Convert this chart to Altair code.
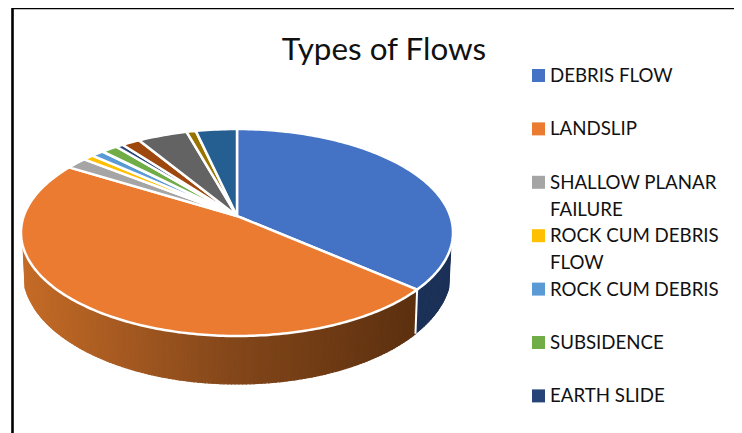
import math
import altair as alt
import pandas as pd

# Chart content
categories = ["DEBRIS FLOW", "LANDSLIP", "SHALLOW PLANAR FAILURE", "ROCK CUM DEBRIS FLOW",
              "ROCK CUM DEBRIS", "SUBSIDENCE", "EARTH SLIDE", "ROCK SLIDE", "OTHER A", "OTHER B", "OTHER C"]
# Shares of the pie, in degrees as seen on the tilted disc
values = [123.5, 185.5, 6.0, 3.0, 3.5, 4.5, 2.0, 5.0, 13.5, 2.5, 11.0]
colors = ["#4472C4", "#EA7B30", "#A5A5A5", "#FFC000", "#5B9BD5", "#70AD47",
          "#264478", "#9E480E", "#636363", "#997300", "#255E91"]
legend_labels = ["DEBRIS FLOW", "LANDSLIP", "SHALLOW PLANAR\nFAILURE", "ROCK CUM DEBRIS\nFLOW",
                 "ROCK CUM DEBRIS", "SUBSIDENCE", "EARTH SLIDE"]
legend_rows = [0, 1, 2, 3, 4, 5, 6]
title_text = "Types of Flows"

# Drawing frame: scales below use page pixels directly
W, H = 726, 423
OX, OY = 8, 10
CX, RX, CY, RY = 237, 216, 232.5, 103.5
AX, AY = 237, 216
BCX, BRX, BCY, BRY = 237, 214, 272, 112
WALL_FROM, WALL_TO = 98, 262
LEG_SW_X, LEG_TX, LEG_Y0, LEG_DY = 538.5, 550, 75.5, 53.4
FONT = "Lato"


def top_pt(t):
    r = math.radians(t)
    return CX + RX * math.sin(r), CY - RY * math.cos(r)


def bot_pt(t):
    r = math.radians(t)
    return BCX + BRX * math.sin(r), BCY - BRY * math.cos(r)


# Top face outlines, derived from the values
rows = []
start = 0.0
for cat, v in zip(categories, values):
    pts = [(AX, AY)]
    n = max(2, int(v))
    for i in range(n + 1):
        pts.append(top_pt(start + v * i / n))
    pts.append((AX, AY))
    for k, (x, y) in enumerate(pts):
        rows.append({"cat": cat, "k": k, "x": x, "y": y})
    start += v
top_df = pd.DataFrame(rows)

# Side wall: small quads along the front rim, split at the first slice boundary
split = values[0]
wall = []
STEP = 1.0
qid = 0
t = WALL_FROM
while t < WALL_TO:
    t2 = min(t + STEP, WALL_TO)
    if t < split < t2:
        t2 = split
    tm = (t + t2) / 2
    group = "blue" if tm < split else "orange"
    a, b, c, d = top_pt(t), top_pt(t2), bot_pt(t2), bot_pt(t)
    for k, (x, y) in enumerate([a, b, c, d, a]):
        wall.append({"q": qid, "k": k, "x": x, "y": y, "group": group, "shade": bot_pt(tm)[0]})
    qid += 1
    t = t2
wall_df = pd.DataFrame(wall)

# White seam on the wall between first two slices
seam_df = pd.DataFrame([{"k": 0, "x": top_pt(split)[0], "y": top_pt(split)[1]},
                        {"k": 1, "x": bot_pt(split)[0], "y": bot_pt(split)[1]}])

xs = alt.Scale(domain=[OX, OX + W], range=[0, W], nice=False, zero=False)
ys = alt.Scale(domain=[OY, OY + H], range=[0, H], nice=False, zero=False)
x_enc = alt.X("x:Q", scale=xs, axis=None)
y_enc = alt.Y("y:Q", scale=ys, axis=None)

shade_scale = alt.Scale(domain=[20, 230, 415], range=["#C66C27", "#84471A", "#5C300F"])

wall_orange = alt.Chart(wall_df[wall_df.group == "orange"]).mark_line(strokeWidth=1.2).encode(
    x=x_enc, y=y_enc, order="k:Q", detail="q:N",
    fill=alt.Fill("shade:Q", scale=shade_scale, legend=None),
    stroke=alt.Stroke("shade:Q", scale=shade_scale, legend=None),
)
wall_blue = alt.Chart(wall_df[wall_df.group == "blue"]).mark_line(
    strokeWidth=1.0, fill="#1B3057", stroke="#1B3057").encode(
    x=x_enc, y=y_enc, order="k:Q", detail="q:N")
seam = alt.Chart(seam_df).mark_line(stroke="white", strokeWidth=2).encode(x=x_enc, y=y_enc, order="k:Q")

color_scale = alt.Scale(domain=categories, range=colors)
top_face = alt.Chart(top_df).mark_line(stroke="white", strokeWidth=2.5, strokeJoin="round").encode(
    x=x_enc, y=y_enc, order="k:Q", detail="cat:N",
    fill=alt.Fill("cat:N", scale=color_scale, legend=None),
)

leg_df = pd.DataFrame({
    "cat": categories[:len(legend_labels)],
    "label": legend_labels,
    "x": [LEG_SW_X] * len(legend_rows),
    "tx": [LEG_TX] * len(legend_rows),
    "y": [LEG_Y0 + r * LEG_DY for r in legend_rows],
})
leg_sw = alt.Chart(leg_df).mark_point(shape="square", filled=True, size=169, opacity=1).encode(
    x=x_enc, y=y_enc, fill=alt.Fill("cat:N", scale=color_scale, legend=None))
leg_tx = alt.Chart(leg_df.assign(y=leg_df.y + 6.5)).mark_text(
    align="left", baseline="alphabetic", font=FONT, fontSize=18.7, lineBreak="\n", lineHeight=27, color="#111111"
).encode(x=alt.X("tx:Q", scale=xs, axis=None), y=y_enc, text="label:N")

title_df = pd.DataFrame({"x": [384], "y": [60], "t": [title_text]})
title = alt.Chart(title_df).mark_text(align="center", baseline="alphabetic", font=FONT, fontSize=31.4, color="#111111").encode(
    x=x_enc, y=y_enc, text="t:N")

frame_df = pd.DataFrame({"x": [12.5, 12.5, 742], "y": [433, 8, 8], "k": [0, 1, 2]})
frame = alt.Chart(frame_df).mark_line(stroke="black", strokeWidth=2.6).encode(x=x_enc, y=y_enc, order="k:Q")

chart = alt.layer(wall_orange, wall_blue, seam, top_face, leg_sw, leg_tx, title, frame).resolve_scale(
    fill="independent", stroke="independent"
).properties(
    width=W, height=H, background="white",
    padding={"left": 0, "top": 2, "right": 0, "bottom": 0},
    autosize=alt.AutoSizeParams(type="none"),
).configure_view(stroke=None)

chart.save("out.html", embed_options={"renderer": "svg", "actions": False})
